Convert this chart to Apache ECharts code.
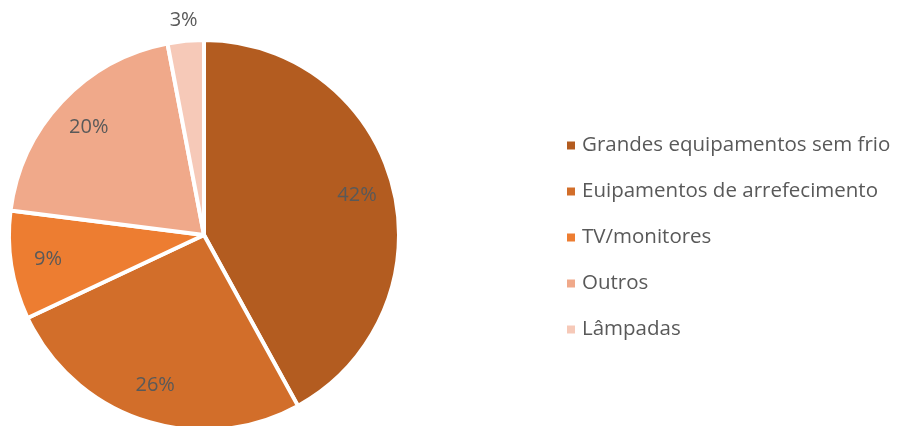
<!DOCTYPE html>
<html>
<head>
<meta charset="utf-8">
<script src="https://cdn.jsdelivr.net/npm/echarts@6/dist/echarts.min.js"></script>
<style>
    html, body { margin: 0; padding: 0; background: #fff; }
    #chart { width: 898px; height: 426px; }
</style>
</head>
<body>
<div id="chart"></div>
<script>
    // categorias e valores (%)
    var categories = ['Grandes equipamentos sem frio', 'Euipamentos de arrefecimento', 'TV/monitores', 'Outros', 'Lâmpadas'];
    var values = [42, 26, 9, 20, 3];
    var colors = ['#B35C20', '#D26E2A', '#ED7D31', '#F0A98A', '#F6C9B8'];

    var cx = 204, cy = 235, radius = 195;
    var total = values.reduce(function (a, b) { return a + b; }, 0);

    var myChart = echarts.init(document.getElementById('chart'));
    var options = {
        animation: false,
        color: colors,
        legend: {
            orient: 'vertical',
            left: 560,
            top: 130,
            icon: 'rect',
            itemWidth: 10,
            itemHeight: 10,
            itemGap: 25,
            textStyle: {
                fontFamily: 'Open Sans',
                fontSize: 20.5,
                color: '#595959',
                padding: [0, 0, 0, 1]
            },
            data: categories
        },
        series: [
            {
                type: 'pie',
                center: [cx, cy],
                radius: [0, radius],
                startAngle: 90,
                clockwise: true,
                avoidLabelOverlap: false,
                itemStyle: {
                    borderColor: '#fff',
                    borderWidth: 4
                },
                label: {
                    show: true,
                    position: 'inside',
                    formatter: '{d}%',
                    fontFamily: 'Open Sans',
                    fontSize: 20,
                    color: '#595959'
                },
                labelLine: { show: false },
                // rótulos perto da borda, como no Excel
                labelLayout: function (params) {
                    var i = params.dataIndex;
                    var before = 0;
                    for (var k = 0; k < i; k++) before += values[k];
                    var mid = (before + values[i] / 2) / total * Math.PI * 2;
                    var r = values[i] < 5 ? 216 : 158;
                    return {
                        x: cx + r * Math.sin(mid),
                        y: cy - r * Math.cos(mid),
                        align: 'center',
                        verticalAlign: 'middle'
                    };
                },
                data: categories.map(function (name, i) {
                    return { name: name, value: values[i] };
                })
            }
        ]
    };
    myChart.setOption(options);
    window.addEventListener('resize', myChart.resize);
</script>
</body>
</html>
